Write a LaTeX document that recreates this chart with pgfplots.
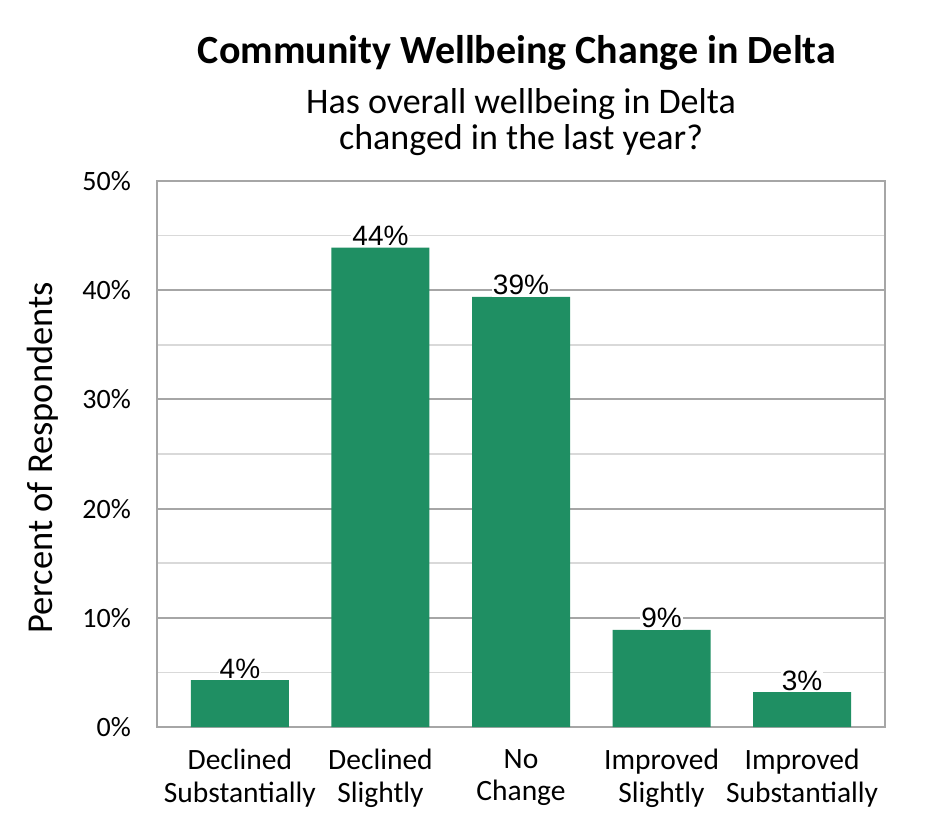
\documentclass[border=0pt]{standalone}
\usepackage{pgfplots}
\pgfplotsset{compat=1.18}
\usepackage{fontspec}
\setmainfont{Carlito}
\newfontfamily\arialfont{Liberation Sans}
\definecolor{bargreen}{HTML}{1F8F63}
\definecolor{majgrid}{HTML}{A6A6A6}
\definecolor{mingrid}{HTML}{D9D9D9}
\begin{document}
\begin{tikzpicture}
\useasboundingbox (-157bp,-113bp) rectangle (788bp,727bp);
\begin{axis}[
  at={(0,0)}, anchor=south west,
  scale only axis, width=728bp, height=546bp,
  ymin=0, ymax=50, xmin=-0.59, xmax=4.59,
  ytick={0,10,...,50}, minor ytick={5,15,...,45},
  ymajorgrids, yminorgrids,
  major grid style={majgrid, line width=2.2bp},
  minor grid style={mingrid, line width=1.5bp},
  axis line style={majgrid, line width=2.2bp},
  major tick length=0pt, minor tick length=0pt,
  tick style={draw=none},
  xtick={0,1,2,3,4},
  xticklabels={Declined\\Substantially, Declined\\Slightly, No\\Change, Improved\\Slightly, Improved\\Substantially},
  xticklabel style={align=center, font=\fontsize{29.5bp}{32.5bp}\selectfont, inner sep=0pt, yshift=-22bp},
  yticklabel={\pgfmathprintnumber{\tick}\%},
  /pgf/number format/assume math mode=true,
  yticklabel style={font=\fontsize{28bp}{30bp}\selectfont, inner sep=0pt, xshift=-26bp},
  ybar, bar width=98bp,
  nodes near coords={\pgfmathprintnumber[fixed,precision=0]{\pgfplotspointmeta}\%},
  every node near coord/.append style={font=\arialfont\fontsize{28bp}{30bp}\selectfont, fill=white, inner xsep=1bp, inner ysep=1.5bp, anchor=south, text=black},
  ylabel={Percent of Respondents},
  ylabel style={at={(axis description cs:-0.1429,0.4927)}, anchor=base, rotate=0, font=\fontsize{36.5bp}{38bp}\selectfont},
  clip=false,
]
\addplot[fill=bargreen, draw=none] coordinates {(0,4.3) (1,43.9) (2,39.4) (3,8.9) (4,3.2)};
\node[font=\bfseries\fontsize{40bp}{44bp}\selectfont, anchor=base] at (axis description cs:0.4945,1.215) {Community Wellbeing Change in Delta};
\node[font=\fontsize{36bp}{38bp}\selectfont, anchor=base] at (axis description cs:0.5,1.1245) {Has overall wellbeing in Delta};
\node[font=\fontsize{36bp}{38bp}\selectfont, anchor=base] at (axis description cs:0.5,1.0568) {changed in the last year?};
\end{axis}
\end{tikzpicture}
\end{document}
